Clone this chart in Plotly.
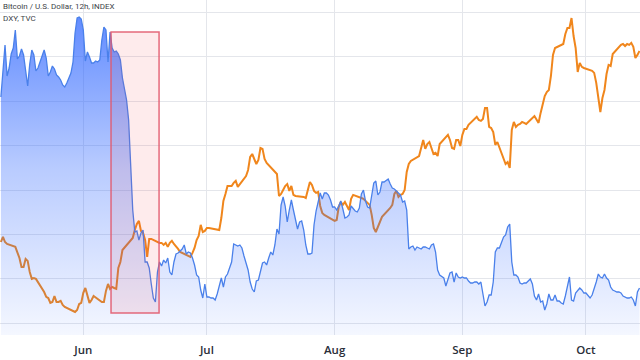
import pandas as pd
import plotly.graph_objects as go

N = None

# 12h bars, first bar 2022-05-12 00:00
BAR_START = "2022-05-12 00:00"
BAR_FREQ = "12h"

# Bitcoin / U.S. Dollar (12h closes, USD)
BTC_USD = [
    27900, 29000, 30500, 28950, 29350, 30050, 30350, 31250, 29800, 29950,
    30300, 30000, 29150, 28450, 29550, 30250, 30000, 29200, 29350, 29650,
    30000, 30250, 29850, 28950, 29150, 29450, 29300, 29000, 28900, 28750,
    28500, 28400, 28600, 28850, 29100, 29650, 31100, 31850, 31900, 31800,
    31250, 29700, 30150, 29900, 29600, 29600, 29700, 29650, 29750, 30750,
    31400, 31250, 29650, 31150, 30350, 30150, 30200, 30050, 29750, 28850,
    28300, 27750, 26750, 24750, 22250, 21150, 21200, 20750, 21100, 21250,
    19650, 19650, 19350, 18550, 17850, 17650, 19150, 19650, 19450, 19750,
    19600, 19850, 19150, 19000, 19650, 20050, 20100, 20200, 20300, 20500,
    20050, 20150, 20100, 19850, 19500, 19000, 18900, 18250, 17850, 18550,
    17900, 17900, 17850, 17850, 17750, 18050, 18500, 18850, 18400, 18900,
    19050, 19400, 19650, 20550, 20500, 20450, 20500, 20350, 19950, 19600,
    19250, 18650, 18300, 18150, 18700, 18750, 19150, 19600, 19650, 19500,
    19850, 20150, 20000, 20500, 21300, 21050, 22500, 22900, 22450, 21650,
    22250, 22750, 22250, 21800, 21300, 21650, 21700, 21250, 20500, 20050,
    20050, 20100, 21500, 22200, 22600, 23100, 22800, 23100, 23100, 23000,
    22750, 22400, 22400, 22250, 22450, 22700, 22300, 21850, 21900, 22000,
    22450, 22300, 22200, 22150, 22350, 23050, 23250, 22700, 22400, 22350,
    23100, 23600, 23700, 23000, 23150, 23650, 23650, 23750, 23800, 23550,
    23350, 23300, 23200, 23100, 23000, 22650, 22700, 22250, 20300, 20400,
    20450, 20250, 20400, 20350, 20300, 20400, 20400, 20350, 20300, 20500,
    20550, 20150, 19250, 19000, 18900, 18850, 18450, 18800, 19100, 19150,
    18650, 19100, 18900, 18850, 18900, 18850, 18850, 18700, 18600, 18600,
    18650, 18650, 18550, 18650, 18050, 17450, 17650, 18000, 18000, 18650,
    20150, 20350, 20350, 20650, 20900, 21000, 21400, 21550, 19650, 19000,
    19000, 18900, 18600, 18550, 18600, 18600, 18700, 18800, 18550, 17950,
    17750, 18050, 17650, 17700, 17250, 17550, 18050, 17750, 17750, 18000,
    17700, 17700, 17600, 17550, 17950, 18450, 18900, 17750, 17700, 18100,
    18250, 18350, 18250, 18100, 18100, 18000, 17850, 18000, 18300, 18650,
    19050, 18900, 18850, 19050, 18850, 18750, 18400, 18250, 18200, 18150,
    18150, 18100, 17950, 17900, 17850, 17850, 17900, 17750, 17450, 18150, 18350,
]

# U.S. Dollar Index (same bars, None = no weekend bar)
DXY = [
    103.66, 103.89, 103.66, 103.57, N, N, N, 103.44, 103.17, 102.94,
    102.54, 102.54, 102.90, 102.81, 102.31, 102.00, 102.04, 102.00, N, N,
    N, 101.41, 101.19, 101.14, 100.92, 100.96, 101.23, 100.96, 100.96, 101.01,
    100.83, 100.74, N, N, N, 100.56, 100.51, 100.60, 100.87, 100.92,
    101.37, 101.59, 101.23, 100.92, 101.05, 101.23, N, N, N, 100.96,
    100.96, 101.46, 101.77, 101.55, 101.64, 101.59, 101.55, 102.49, 102.76, 103.30,
    N, N, N, 103.71, 103.84, 104.20, 104.47, 104.61, 104.16, 104.07,
    103.75, 102.99, 103.80, 103.80, N, N, N, 103.62, 103.62, 103.53,
    103.62, 103.44, 103.62, 103.71, 103.57, 103.48, 103.35, 103.21, N, N,
    N, 103.03, 102.99, 103.17, 103.39, 103.75, 103.93, 104.43, 104.11, 104.16,
    104.29, 104.29, N, N, N, 104.20, 104.20, 104.74, 105.51, 105.82,
    106.18, 106.18, 106.18, 106.32, 106.41, 106.14, N, N, N, 106.63,
    106.90, 107.49, 107.62, 107.35, 107.17, 107.35, 107.89, 107.85, 107.40, 107.22,
    N, N, N, 106.81, 106.72, 105.73, 105.82, 106.00, 106.18, 106.27,
    105.96, 106.18, 105.78, 105.73, N, N, N, 105.69, 105.64, 105.96,
    106.36, 106.23, 105.96, 105.87, 105.91, 105.28, 104.97, 104.88, N, N,
    N, 104.65, 104.61, 104.65, 105.24, 105.46, 105.33, 105.46, 105.24, 105.10,
    105.60, 105.78, N, N, N, 105.64, 105.60, 105.51, 105.42, 105.33,
    104.88, 104.29, 104.11, 104.34, 104.61, 104.79, N, N, N, 105.19,
    105.33, 105.82, 105.96, 105.69, 105.78, 105.82, 106.00, 106.81, 107.17, 107.31,
    N, N, N, 107.53, 107.89, 108.25, 107.85, 108.07, 108.16, 107.89,
    107.62, 107.67, 107.53, 108.07, N, N, N, 108.48, 108.25, 107.89,
    107.85, 108.25, 108.25, 107.98, 108.48, 108.75, 108.75, 108.93, N, N,
    N, 109.29, 109.15, 109.11, 109.20, 109.69, 109.69, 108.84, 108.79, 108.61,
    108.03, 108.16, N, N, N, 107.17, 107.26, 106.99, 108.70, 109.06,
    108.84, 108.93, 108.97, 109.06, 109.02, 108.97, N, N, N, 109.33,
    109.15, 109.02, 109.47, 109.83, 110.23, 110.41, 110.50, 111.13, 112.08, 112.39,
    N, N, N, 112.57, 113.02, 113.29, 113.29, 113.74, 112.93, 112.39,
    111.31, 111.72, 111.54, 111.49, N, N, N, 111.36, 111.27, 110.82,
    110.05, 109.51, 110.14, 110.50, 111.22, 111.63, 111.58, 112.12, N, N,
    N, 112.53, 112.57, 112.48, 112.57, 112.53, 112.62, 112.44, 111.94, 112.08, 112.26,
]

MONTH_TICKS = ["2022-06-01", "2022-07-01", "2022-08-01", "2022-09-01", "2022-10-01"]
MONTH_LABELS = ["Jun", "Jul", "Aug", "Sep", "Oct"]

LEGEND_LINES = ["Bitcoin / U.S. Dollar, 12h, INDEX", "DXY, TVC"]

# highlighted crash window (time, DXY units)
HL_START = "2022-06-07 17:30"
HL_END = "2022-06-19 09:20"
HL_LOW = 100.47
HL_HIGH = 113.11

assert len(BTC_USD) == len(DXY)
times = pd.date_range(BAR_START, periods=len(BTC_USD), freq=BAR_FREQ)

GRID = "#e4e6eb"

fig = go.Figure()
fig.add_trace(go.Scatter(
    x=times, y=DXY, mode="lines", connectgaps=True,
    line=dict(color="#f0861c", width=2), yaxis="y", hoverinfo="skip",
))
fig.add_trace(go.Scatter(
    x=times, y=BTC_USD, mode="lines",
    line=dict(color="#4a80ea", width=1.3),
    fill="tozeroy",
    fillgradient=dict(
        type="vertical",
        colorscale=[[0, "rgba(41,98,255,0.05)"], [0.5, "rgba(41,98,255,0.33)"], [1, "rgba(41,98,255,0.78)"]],
        start=16000, stop=32750,
    ),
    yaxis="y2", hoverinfo="skip",
))

fig.update_layout(
    width=640, height=360,
    margin=dict(l=0, r=0, t=0, b=25),
    paper_bgcolor="white", plot_bgcolor="white",
    showlegend=False,
    xaxis=dict(
        type="date", range=["2022-05-11 18:46", "2022-10-14 02:53"],
        tickvals=MONTH_TICKS, ticktext=MONTH_LABELS,
        showgrid=True, gridcolor=GRID, gridwidth=1,
        zeroline=False, showline=False, ticks="",
        ticklabelstandoff=6,
        tickfont=dict(family="Open Sans", size=11.5, color="#2a2e39", weight=600),
    ),
    yaxis=dict(
        range=[99.475, 114.55], tick0=0, dtick=2,
        showgrid=True, gridcolor=GRID, gridwidth=1,
        showticklabels=False, zeroline=False, ticks="",
    ),
    yaxis2=dict(
        range=[16000, 32750], overlaying="y",
        showgrid=False, showticklabels=False, zeroline=False, ticks="",
    ),
    shapes=[dict(
        type="rect", xref="x", yref="y", layer="above",
        x0=HL_START, x1=HL_END, y0=HL_LOW, y1=HL_HIGH,
        fillcolor="rgba(242,54,69,0.10)",
        line=dict(color="rgba(226,90,110,0.9)", width=1.5),
    )],
    annotations=[
        dict(text=LEGEND_LINES[0], xref="paper", yref="paper", x=0.002, y=1 - 7 / 335,
             xanchor="left", yanchor="middle", showarrow=False,
             font=dict(family="Roboto", size=8, color="#3c3f48")),
        dict(text=LEGEND_LINES[1], xref="paper", yref="paper", x=0.002, y=1 - 18 / 335,
             xanchor="left", yanchor="middle", showarrow=False,
             font=dict(family="Roboto", size=8, color="#3c3f48")),
    ],
)

fig.write_html("out.html")
